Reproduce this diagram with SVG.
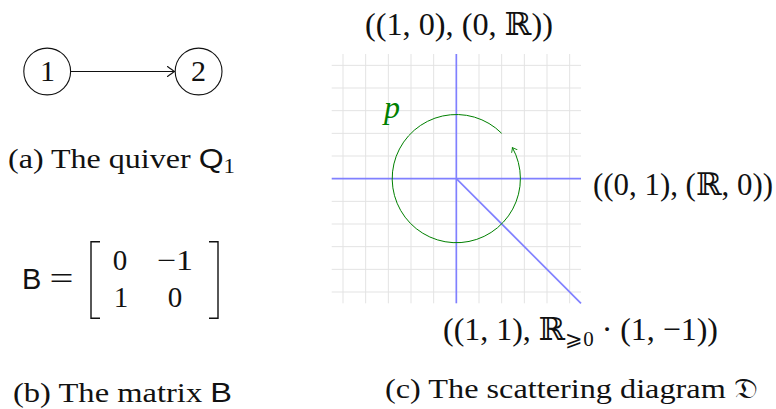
<svg xmlns="http://www.w3.org/2000/svg" width="776" height="409" viewBox="0 0 776 409">
<defs>
<style>
.t{font-family:"Liberation Serif","DejaVu Serif",serif;fill:#111}
.s{font-family:"Liberation Sans","DejaVu Sans",sans-serif}
.grid line{stroke:#e3e3e3;stroke-width:1}
.axis{stroke:#8080ff;stroke-width:1.7;fill:none}
.node circle{fill:#fff;stroke:#111;stroke-width:1.1}
</style>
<marker id="to" markerUnits="userSpaceOnUse" viewBox="-9 -7 10 14" markerWidth="10" markerHeight="14" refX="0" refY="0" orient="auto" overflow="visible">
<path d="M-7,-5 Q-2,-1.3 0,0 Q-2,1.3 -7,5" fill="none" stroke="#111" stroke-width="1.1" stroke-linecap="round"/>
</marker>
<marker id="tog" markerUnits="userSpaceOnUse" viewBox="-6 -5 7 10" markerWidth="7" markerHeight="10" refX="0" refY="0" orient="auto" overflow="visible">
<path d="M-4,-3 Q-1.2,-0.8 0,0 Q-1.2,0.8 -4,3" fill="none" stroke="#008000" stroke-width="0.9" stroke-linecap="round"/>
</marker>
</defs>
<rect width="776" height="409" fill="#fff"/>

<!-- (a) quiver -->
<g id="connectors">
<line x1="70.5" y1="71.5" x2="174.5" y2="71.5" stroke="#111" stroke-width="1.1" marker-end="url(#to)"/>
</g>
<g id="node1" class="node"><circle cx="47.2" cy="71.5" r="23.4"/><text class="t" x="47.5" y="81" font-size="30" text-anchor="middle">1</text></g>
<g id="node2" class="node"><circle cx="198.6" cy="71.5" r="23.4"/><text class="t" x="198.6" y="81" font-size="30" text-anchor="middle">2</text></g>
<text class="t" x="8" y="168" font-size="28" textLength="227" lengthAdjust="spacingAndGlyphs">(a) The quiver <tspan class="s">Q</tspan><tspan font-size="20" dy="5">1</tspan></text>

<!-- (b) matrix -->
<g id="matrix">
<text class="s" x="22" y="288.5" font-size="29" fill="#111">B</text>
<text class="t" x="49.5" y="288.5" font-size="32" textLength="24" lengthAdjust="spacingAndGlyphs">=</text>
<path d="M100,241.7 H91 V318.3 H100 M209,241.7 H218 V318.3 H209" fill="none" stroke="#111" stroke-width="1.4"/>
<text class="t" font-size="29" text-anchor="middle"><tspan x="120" y="269.5">0</tspan><tspan x="121" y="306.5">1</tspan><tspan x="175" y="306.5">0</tspan></text>
<text class="t" x="157" y="269.5" font-size="29" textLength="36" lengthAdjust="spacingAndGlyphs">−1</text>
</g>
<text class="t" x="13" y="402" font-size="27" textLength="219" lengthAdjust="spacingAndGlyphs">(b) The matrix <tspan class="s">B</tspan></text>

<!-- (c) scattering diagram -->
<g class="grid">
<line x1="343" y1="54" x2="343" y2="303.3"/><line x1="365.67" y1="54" x2="365.67" y2="303.3"/><line x1="388.33" y1="54" x2="388.33" y2="303.3"/><line x1="411" y1="54" x2="411" y2="303.3"/><line x1="433.67" y1="54" x2="433.67" y2="303.3"/><line x1="479" y1="54" x2="479" y2="303.3"/><line x1="501.67" y1="54" x2="501.67" y2="303.3"/><line x1="524.33" y1="54" x2="524.33" y2="303.3"/><line x1="547" y1="54" x2="547" y2="303.3"/><line x1="569.67" y1="54" x2="569.67" y2="303.3"/>
<line x1="331.7" y1="65.33" x2="581" y2="65.33"/><line x1="331.7" y1="88" x2="581" y2="88"/><line x1="331.7" y1="110.67" x2="581" y2="110.67"/><line x1="331.7" y1="133.33" x2="581" y2="133.33"/><line x1="331.7" y1="156" x2="581" y2="156"/><line x1="331.7" y1="201.33" x2="581" y2="201.33"/><line x1="331.7" y1="224" x2="581" y2="224"/><line x1="331.7" y1="246.67" x2="581" y2="246.67"/><line x1="331.7" y1="269.33" x2="581" y2="269.33"/><line x1="331.7" y1="292" x2="581" y2="292"/>
</g>
<g id="walls">
<line class="axis" x1="331.7" y1="178.67" x2="581" y2="178.67"/>
<line class="axis" x1="456.33" y1="54" x2="456.33" y2="303.3"/>
<line class="axis" x1="456.33" y1="178.67" x2="581" y2="303.3"/>
</g>
<g id="path-p">
<path d="M501.67,133.33 A64.1,64.1 0 1 0 512.4,147.6" fill="none" stroke="#008000" stroke-width="1" marker-end="url(#tog)"/>
<text x="384" y="118" font-family="Liberation Serif, serif" font-style="italic" font-size="32" fill="#008000">p</text>
</g>
<text class="t" x="365" y="35" font-size="32" textLength="188" lengthAdjust="spacingAndGlyphs">((1, 0), (0, ℝ))</text>
<text class="t" x="593" y="195" font-size="31" textLength="180" lengthAdjust="spacingAndGlyphs">((0, 1), (ℝ, 0))</text>
<text class="t" x="443" y="340" font-size="32" textLength="275" lengthAdjust="spacingAndGlyphs">((1, 1), ℝ<tspan font-size="21" dy="6">⩾0</tspan><tspan dy="-6"> · (1, −1))</tspan></text>
<text class="t" x="385" y="398" font-size="28" textLength="373" lengthAdjust="spacingAndGlyphs">(c) The scattering diagram 𝔇</text>
</svg>
